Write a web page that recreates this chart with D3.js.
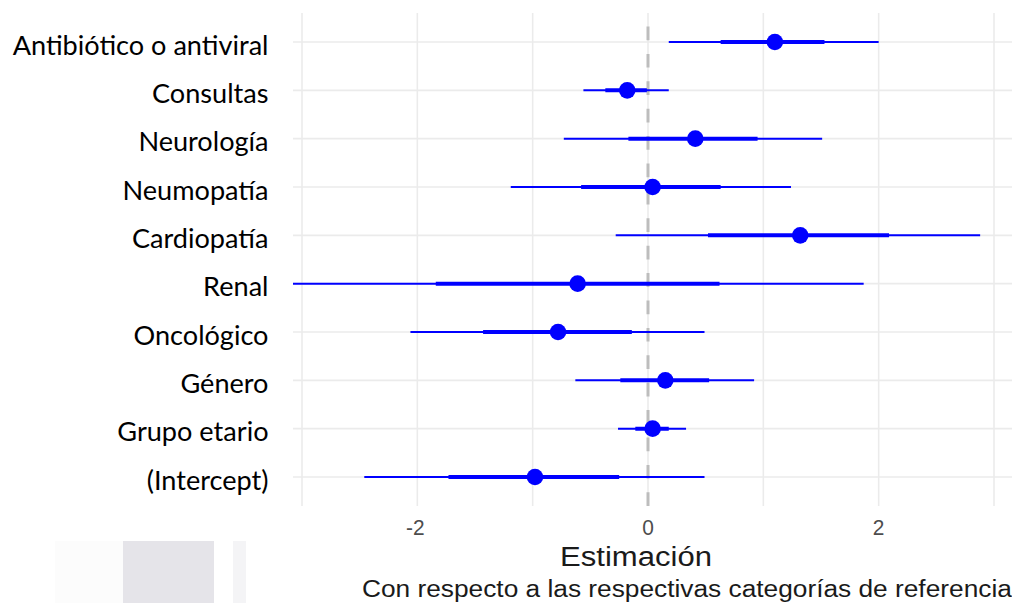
<!DOCTYPE html>
<html>
<head>
<meta charset="utf-8">
<script src="https://cdn.jsdelivr.net/npm/d3@7"></script>
<style>
  html, body { margin: 0; padding: 0; background: #ffffff; }
  svg { display: block; }
</style>
</head>
<body>
<svg id="chart" width="1012" height="603"></svg>
<script>
// Coefficient estimates with inner (thick) and outer (thin) intervals
const categories = ["Antibiótico o antiviral", "Consultas", "Neurología", "Neumopatía",
  "Cardiopatía", "Renal", "Oncológico", "Género", "Grupo etario", "(Intercept)"];
const estimate  = [1.10, -0.18, 0.41, 0.04, 1.32, -0.61, -0.78, 0.15, 0.04, -0.98];
const innerLow  = [0.63, -0.37, -0.17, -0.58, 0.52, -1.84, -1.43, -0.24, -0.11, -1.73];
const innerHigh = [1.53, -0.01, 0.95, 0.63, 2.09, 0.62, -0.14, 0.53, 0.18, -0.25];
const outerLow  = [0.18, -0.56, -0.73, -1.19, -0.28, -3.09, -2.06, -0.63, -0.26, -2.46];
const outerHigh = [2.00, 0.18, 1.51, 1.24, 2.88, 1.87, 0.49, 0.92, 0.33, 0.49];
const gridValues = [-3, -2, -1, 0, 1, 2, 3];
const tickValues = [-2, 0, 2];
const xTitle = "Estimación";
const caption = "Con respecto a las respectivas categorías de referencia";

const rows = categories.map((c, i) => ({
  cat: c, est: estimate[i], lo: innerLow[i], hi: innerHigh[i], lo2: outerLow[i], hi2: outerHigh[i]
}));

const svg = d3.select("#chart");
const x = d3.scaleLinear().domain([-3, 3]).range([302, 994]);
const y = d3.scalePoint().domain(categories).range([42, 477]);
const step = y.step();
const panel = { left: 293, right: 1012, top: y(categories[0]) - 0.6 * step, bottom: y(categories[categories.length - 1]) + 0.6 * step };

svg.append("defs").append("clipPath").attr("id", "panelClip")
  .append("rect").attr("x", panel.left).attr("y", panel.top)
  .attr("width", panel.right - panel.left).attr("height", panel.bottom - panel.top);

// Grid
const grid = svg.append("g");
grid.selectAll("line.v").data(gridValues).join("line")
  .attr("x1", d => x(d)).attr("x2", d => x(d))
  .attr("y1", panel.top).attr("y2", panel.bottom)
  .attr("stroke", "#ebebeb").attr("stroke-width", 1.6);
grid.selectAll("line.h").data(categories).join("line")
  .attr("x1", panel.left).attr("x2", panel.right)
  .attr("y1", d => y(d)).attr("y2", d => y(d))
  .attr("stroke", "#ebebeb").attr("stroke-width", 1.6);

// Reference line at zero, drawn bottom to top
svg.append("line")
  .attr("x1", x(0)).attr("x2", x(0))
  .attr("y1", panel.bottom).attr("y2", panel.top)
  .attr("stroke", "#bdbdbd").attr("stroke-width", 3)
  .attr("stroke-dasharray", "13.7,13.7");

// Intervals and points
const marks = svg.append("g").attr("clip-path", "url(#panelClip)");
marks.selectAll("line.outer").data(rows).join("line")
  .attr("x1", d => x(d.lo2)).attr("x2", d => x(d.hi2))
  .attr("y1", d => y(d.cat)).attr("y2", d => y(d.cat))
  .attr("stroke", "#0000ff").attr("stroke-width", 2);
marks.selectAll("line.inner").data(rows).join("line")
  .attr("x1", d => x(d.lo)).attr("x2", d => x(d.hi))
  .attr("y1", d => y(d.cat)).attr("y2", d => y(d.cat))
  .attr("stroke", "#0000ff").attr("stroke-width", 4);
marks.selectAll("circle").data(rows).join("circle")
  .attr("cx", d => x(d.est)).attr("cy", d => y(d.cat))
  .attr("r", 8.3).attr("fill", "#0000ff");

// Category labels
const yLab = svg.append("g");
const labs = yLab.selectAll("text").data(categories).join("text")
  .attr("text-anchor", "end")
  .attr("font-family", "Lato, 'Open Sans', sans-serif")
  .attr("font-size", 26)
  .attr("fill", "#000000")
  .text(d => d);
const longest = labs.filter(d => d === categories[0]).node().getComputedTextLength();
const sx = 256 / longest;
labs.attr("transform", d => `translate(268.5,${y(d) + 12.7}) scale(${sx},1)`);

// Sans text fitted to a given width
function fittedText(txt, size, color, anchor, tx, ty, width) {
  const t = svg.append("text")
    .attr("font-family", "'Liberation Sans', Arial, sans-serif")
    .attr("font-size", size).attr("fill", color)
    .attr("text-anchor", anchor).text(txt);
  const w = t.node().getComputedTextLength();
  t.attr("transform", `translate(${tx},${ty}) scale(${width / w},1)`);
  return t;
}

// Tick labels
svg.append("g").selectAll("text").data(tickValues).join("text")
  .attr("font-family", "'Liberation Sans', Arial, sans-serif")
  .attr("font-size", 22).attr("fill", "#4d4d4d")
  .attr("text-anchor", "middle")
  .attr("transform", d => `translate(${x(d) - (d < 0 ? 2 : 0)},535) scale(0.95,1)`)
  .text(d => d < 0 ? "-" + Math.abs(d) : String(d));

fittedText(xTitle, 27, "#1a1a1a", "middle", 636, 566, 152);
fittedText(caption, 23, "#1a1a1a", "start", 362, 597, 650);

// Gray blocks at the lower left
const blocks = [[55, 123, "#fcfcfc"], [123, 214, "#e5e4e9"], [233, 246, "#f4f4f6"]];
svg.append("g").selectAll("rect").data(blocks).join("rect")
  .attr("x", d => d[0]).attr("y", 541)
  .attr("width", d => d[1] - d[0]).attr("height", 62)
  .attr("fill", d => d[2]);
</script>
</body>
</html>
